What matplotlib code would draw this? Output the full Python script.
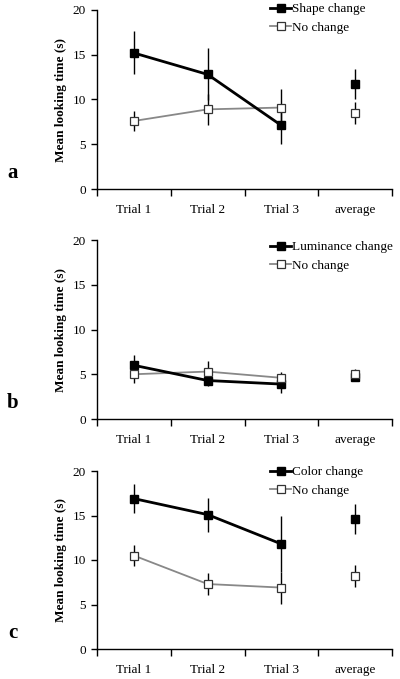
import numpy as np
import matplotlib
matplotlib.use("Agg")
import matplotlib.pyplot as plt

plt.rcParams['font.family'] = ['Liberation Serif', 'DejaVu Serif']

# ─── Data ────────────────────────────────────────────────────────────────────
categories = ["Trial 1", "Trial 2", "Trial 3", "average"]
panel_letters = ["a", "b", "c"]
change_labels = ["Shape change", "Luminance change", "Color change"]

shape_mean = [15.2, 12.8, 7.1, 11.7]
shape_err = [2.4, 2.9, 2.1, 1.7]
shape_nc_mean = [7.6, 8.9, 9.1, 8.5]
shape_nc_err = [1.1, 1.7, 2.1, 1.2]

lum_mean = [6.0, 4.3, 3.9, 4.7]
lum_err = [1.1, 0.6, 1.0, 0.5]
lum_nc_mean = [5.0, 5.3, 4.6, 5.0]
lum_nc_err = [1.0, 1.2, 0.7, 0.6]

color_mean = [16.9, 15.1, 11.8, 14.6]
color_err = [1.6, 1.9, 3.2, 1.7]
color_nc_mean = [10.5, 7.3, 6.9, 8.2]
color_nc_err = [1.2, 1.2, 1.8, 1.2]

changes = [(shape_mean, shape_err), (lum_mean, lum_err), (color_mean, color_err)]
no_changes = [(shape_nc_mean, shape_nc_err), (lum_nc_mean, lum_nc_err),
              (color_nc_mean, color_nc_err)]

# ─── Figure ──────────────────────────────────────────────────────────────────
fig = plt.figure(figsize=(4.0, 6.79), dpi=100)
W, H = 400.0, 679.0
tops = [10, 240, 471]
bottoms = [189, 419, 649]
legend_top = [3, 241, 466]     # pixel y of legend box top
x_left, x_right = 97, 392
FS = 9.5

x = np.arange(len(categories))
n_trials = 3

for i in range(3):
    ax = fig.add_axes([x_left / W, 1 - bottoms[i] / H,
                       (x_right - x_left) / W, (bottoms[i] - tops[i]) / H])
    cm, ce = changes[i]
    nm, ne = no_changes[i]

    # error bars (no caps)
    ax.errorbar(x, nm, yerr=ne, fmt='none', ecolor='black', elinewidth=1.0,
                capsize=0, zorder=2)
    ax.errorbar(x, cm, yerr=ce, fmt='none', ecolor='black', elinewidth=1.0,
                capsize=0, zorder=2)

    # lines over trials only
    ax.plot(x[:n_trials], nm[:n_trials], color='#888888', linewidth=1.3,
            zorder=3)
    ax.plot(x[:n_trials], cm[:n_trials], color='black', linewidth=2.0,
            zorder=4)
    # markers
    ax.plot(x, cm, linestyle='none', marker='s', markersize=5.5,
            color='black', zorder=5)
    ax.plot(x, nm, linestyle='none', marker='s', markersize=5.5,
            markerfacecolor='white', markeredgecolor='#333333',
            markeredgewidth=0.9, zorder=6)

    # legend proxies
    h1, = ax.plot([], [], color='black', linewidth=2.0, marker='s',
                  markersize=5.5, label=change_labels[i])
    h2, = ax.plot([], [], color='#888888', linewidth=1.3, marker='s',
                  markersize=5.5, markerfacecolor='white',
                  markeredgecolor='#333333', markeredgewidth=0.9,
                  label="No change")
    ax.legend(handles=[h1, h2], loc='upper left', frameon=False,
              fontsize=FS, handlelength=1.6, handletextpad=0.1,
              borderaxespad=0.0, borderpad=0.0, labelspacing=0.5,
              bbox_to_anchor=(270 / W, 1 - legend_top[i] / H),
              bbox_transform=fig.transFigure)

    ax.set_xlim(-0.5, len(categories) - 0.5)
    ax.set_ylim(0, 20)
    ax.set_yticks([0, 5, 10, 15, 20])
    ax.set_xticks(np.arange(len(categories) + 1) - 0.5)
    ax.set_xticklabels([])
    ax.set_xticks(x, minor=True)
    ax.set_xticklabels(categories, minor=True, fontsize=FS)
    ax.tick_params(axis='x', which='minor', length=0, pad=11)
    ax.tick_params(axis='x', which='major', length=5, width=1.0)
    ax.tick_params(axis='y', length=4, width=1.0, labelsize=FS, pad=4)
    for side in ['top', 'right']:
        ax.spines[side].set_visible(False)
    for side in ['left', 'bottom']:
        ax.spines[side].set_linewidth(1.0)
    ax.set_ylabel("Mean looking time (s)", fontsize=FS, fontweight='bold',
                  labelpad=4)

    fig.text(13 / W, 1 - (bottoms[i] - 16) / H, panel_letters[i],
             fontsize=15, fontweight='bold', ha='center', va='center')

fig.savefig("out.png", dpi=100)
